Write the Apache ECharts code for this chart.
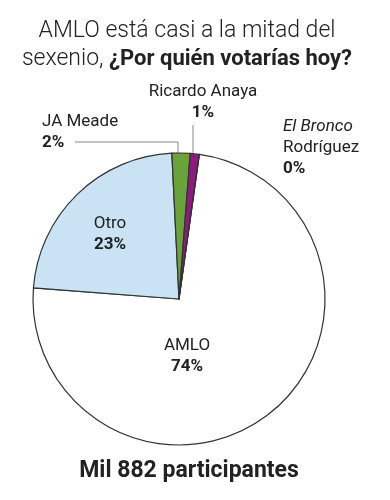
<!DOCTYPE html>
<html>
<head>
<meta charset="utf-8">
<script src="https://cdn.jsdelivr.net/npm/echarts@6/dist/echarts.min.js"></script>
<style>html,body{margin:0;padding:0;background:#fff;}#c{width:390px;height:500px;}</style>
</head>
<body>
<div id="c"></div>
<script>
var categories = ['AMLO', 'Otro', 'JA Meade', 'Ricardo Anaya', 'El Bronco Rodríguez'];
var values = [74, 23, 2, 1, 0];
var colors = ['#ffffff', '#c9e2f4', '#6aa33a', '#8c1a7f', '#8c1a7f'];
var titleLine1 = 'AMLO está casi a la mitad del';
var titleLine2a = 'sexenio, ';
var titleLine2b = '¿Por quién votarías hoy?';
var footer = 'Mil 882 participantes';

var FONT = 'Roboto';
var chart = echarts.init(document.getElementById('c'));

var labelPos = [
  {x: 187, y: 356, align: 'center'},
  {x: 110, y: 234, align: 'center'},
  {x: 42, y: 132, align: 'left', line: [[75, 142], [178, 142], [178, 157]]},
  {x: 203, y: 102, align: 'center', line: [[193, 125], [193, 140], [193, 157]]},
  {x: 283, y: 148, align: 'left'}
];

var data = categories.map(function (n, i) {
  var d = {name: n, value: values[i], itemStyle: {color: colors[i]}};
  d.labelLine = {show: !!labelPos[i].line};
  return d;
});

chart.setOption({
  animation: false,
  title: [{
    text: '{a|' + titleLine1 + '}\n{a|' + titleLine2a + '}{b|' + titleLine2b + '}',
    left: 182, top: 12, textAlign: 'center',
    textStyle: {
      rich: {
        a: {fontFamily: FONT, fontWeight: 300, fontSize: 23, color: '#222', lineHeight: 28},
        b: {fontFamily: FONT, fontWeight: 700, fontSize: 22, color: '#222', lineHeight: 28}
      }
    }
  }, {
    text: footer, left: 184, top: 455, textAlign: 'center',
    textStyle: {fontFamily: FONT, fontWeight: 700, fontSize: 23, color: '#222'}
  }],
  series: [{
    type: 'pie',
    center: [179, 299],
    radius: [0, 146],
    startAngle: 82,
    clockwise: true,
    data: data,
    itemStyle: {borderColor: '#333', borderWidth: 1.2},
    label: {
      show: true,
      position: 'outside',
      overflow: 'none',
      formatter: function (p) {
        if (p.dataIndex === 4) return '{i|El Bronco}\n{n|Rodríguez}\n{v|' + p.value + '%}';
        return '{n|' + p.name + '}\n{v|' + p.value + '%}';
      },
      rich: {
        n: {fontFamily: FONT, fontSize: 17, color: '#222', lineHeight: 21},
        i: {fontFamily: FONT, fontSize: 17, fontStyle: 'italic', color: '#222', lineHeight: 21},
        v: {fontFamily: FONT, fontSize: 17, fontWeight: 700, color: '#222', lineHeight: 21}
      }
    },
    labelLine: {lineStyle: {color: '#888', width: 1}},
    labelLayout: function (p) {
      var l = labelPos[p.dataIndex];
      var r = {x: l.x, y: l.y, align: l.align, verticalAlign: 'middle'};
      if (l.line) r.labelLinePoints = l.line;
      return r;
    },
    emphasis: {disabled: true}
  }]
});
</script>
</body>
</html>
